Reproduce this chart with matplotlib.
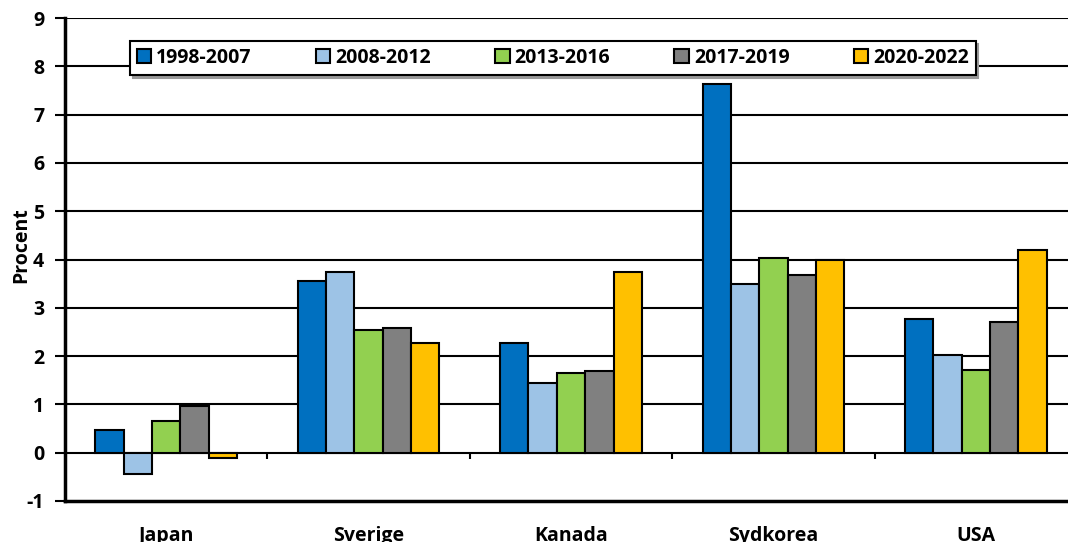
import numpy as np
import matplotlib
matplotlib.use("Agg")
import matplotlib.pyplot as plt

countries = ["Japan", "Sverige", "Kanada", "Sydkorea", "USA"]
periods = ["1998-2007", "2008-2012", "2013-2016", "2017-2019", "2020-2022"]
v_1998_2007 = [0.47, 3.55, 2.28, 7.64, 2.77]
v_2008_2012 = [-0.45, 3.75, 1.45, 3.50, 2.02]
v_2013_2016 = [0.65, 2.55, 1.64, 4.03, 1.71]
v_2017_2019 = [0.97, 2.59, 1.69, 3.67, 2.70]
v_2020_2022 = [-0.12, 2.28, 3.75, 3.98, 4.19]
series = [v_1998_2007, v_2008_2012, v_2013_2016, v_2017_2019, v_2020_2022]
colors = ["#0070C0", "#9DC3E6", "#92D050", "#808080", "#FFC000"]
yticks = list(range(-1, 10))

plt.rcParams['font.family'] = ['Open Sans', 'DejaVu Sans']
plt.rcParams['font.weight'] = 'bold'
plt.rcParams['axes.unicode_minus'] = False

fig = plt.figure(figsize=(10.68, 5.42), dpi=100)
ax = fig.add_axes([65/1068, 1-501/542, 1012/1068, 483/542])

x = np.arange(len(countries))
w = 0.14
for i, (vals, c, lab) in enumerate(zip(series, colors, periods)):
    ax.bar(x + (i - 2) * w, vals, w, color=c, edgecolor='black', linewidth=1.5,
           label=lab, zorder=3)

ax.set_xlim(-0.5, len(countries) - 0.5)
ax.set_ylim(-1, 9)
ax.set_yticks(yticks)
for t in yticks[1:]:
    ax.axhline(t, color='black', linewidth=1.5, zorder=1)
ax.vlines(x[:-1] + 0.5, -0.13, 0, color='black', linewidth=1.5, zorder=2)

ax.set_xticks(x)
ax.set_xticklabels(countries, fontsize=14, fontweight='bold')
ax.tick_params(axis='x', length=0, pad=18)
ax.tick_params(axis='y', length=7, width=1.5, labelsize=14, pad=8)
for lbl in ax.get_yticklabels():
    lbl.set_fontweight('bold')
ax.spines['right'].set_visible(False)
ax.spines['top'].set_visible(False)
ax.spines['left'].set_linewidth(2.5)
ax.spines['bottom'].set_linewidth(2.5)
ax.set_ylabel("Procent", fontsize=14, fontweight='bold', labelpad=0)
ax.yaxis.set_label_coords(-0.033, 0.53)

leg = ax.legend(loc='center', bbox_to_anchor=(0.482, 0.917), ncol=5,
                frameon=True, fancybox=False, edgecolor='black', handlelength=0.75,
                handleheight=0.75, handletextpad=0.25, columnspacing=3.3,
                borderpad=0.35, prop={'weight': 'bold', 'size': 14},
                shadow={'ox': 2, 'oy': -2, 'color': '#999999', 'alpha': 1})
leg.get_frame().set_linewidth(1.5)
leg.set_zorder(5)

fig.savefig("out.png", dpi=100)
